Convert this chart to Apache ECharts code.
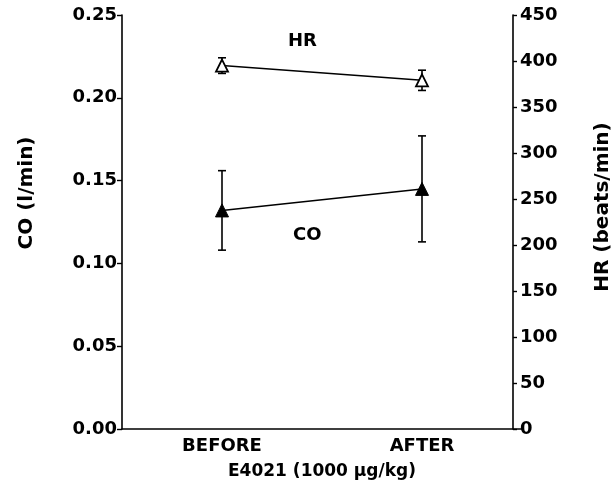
<!DOCTYPE html>
<html>
<head>
<meta charset="utf-8">
<script src="https://cdn.jsdelivr.net/npm/echarts@6/dist/echarts.min.js"></script>
<style>
  html, body { margin: 0; padding: 0; background: #fff; }
  #chart { width: 615px; height: 487px; }
</style>
</head>
<body>
<div id="chart"></div>
<script>
	// data
	var categories = ['BEFORE', 'AFTER'];
	var hrValues = [395, 379];
	var hrErr = [8.5, 11];
	var coValues = [0.132, 0.145];
	var coErr = [0.024, 0.032];

	var FONT = 'DejaVu Sans';

	function errData(vals, errs) {
		var out = [];
		for (var i = 0; i < vals.length; i++) {
			out.push([i, vals[i] - errs[i], vals[i] + errs[i]]);
		}
		return out;
	}

	// vertical error bar with small caps
	function renderErr(params, api) {
		var lo = api.coord([api.value(0), api.value(1)]);
		var hi = api.coord([api.value(0), api.value(2)]);
		var w = 4;
		var st = { stroke: '#000', lineWidth: 1.6 };
		return {
			type: 'group',
			children: [
				{ type: 'line', shape: { x1: lo[0], y1: lo[1], x2: hi[0], y2: hi[1] }, style: st },
				{ type: 'line', shape: { x1: lo[0] - w, y1: lo[1], x2: lo[0] + w, y2: lo[1] }, style: st },
				{ type: 'line', shape: { x1: hi[0] - w, y1: hi[1], x2: hi[0] + w, y2: hi[1] }, style: st }
			]
		};
	}

	var myChart = echarts.init(document.getElementById('chart'));
	var option = {
		animation: false,
		backgroundColor: '#fff',
		grid: {
			left: 122,
			right: 93,
			top: 15,
			bottom: 58,
			outerBoundsMode: 'none',
			containLabel: false
		},
		xAxis: {
			type: 'category',
			data: categories,
			boundaryGap: true,
			name: 'E4021 (1000 μg/kg)',
			nameLocation: 'middle',
			nameGap: 34,
			nameTextStyle: { fontFamily: FONT, fontWeight: 'bold', fontSize: 17, color: '#000' },
			axisLine: { lineStyle: { color: '#000', width: 1.6 } },
			axisTick: { alignWithLabel: true, length: 5, lineStyle: { color: '#000', width: 1.4 } },
			axisLabel: { margin: 8, fontFamily: FONT, fontWeight: 'bold', fontSize: 18, color: '#000' },
			splitLine: { show: false }
		},
		yAxis: [{
			type: 'value',
			min: 0,
			max: 0.25,
			interval: 0.05,
			name: 'CO (l/min)',
			nameLocation: 'middle',
			nameGap: 85,
			nameRotate: 90,
			nameTextStyle: { fontFamily: FONT, fontWeight: 'bold', fontSize: 20, color: '#000', padding: [0, 0, 0, 58] },
			axisLine: { show: true, lineStyle: { color: '#000', width: 1.6 } },
			axisTick: { show: true, length: 5, lineStyle: { color: '#000', width: 1.4 } },
			axisLabel: {
				margin: 5, fontFamily: FONT, fontWeight: 'bold', fontSize: 18, color: '#000',
				formatter: function (v) { return v.toFixed(2); }
			},
			splitLine: { show: false }
		}, {
			type: 'value',
			min: 0,
			max: 450,
			interval: 50,
			position: 'right',
			offset: -9,
			name: 'HR (beats/min)',
			nameLocation: 'middle',
			nameGap: 80,
			nameRotate: 90,
			nameTextStyle: { fontFamily: FONT, fontWeight: 'bold', fontSize: 20, color: '#000', padding: [0, 0, 0, 30] },
			axisLine: { show: true, lineStyle: { color: '#000', width: 1.6 } },
			axisTick: { show: true, length: 4, lineStyle: { color: '#000', width: 1.4 } },
			axisLabel: { margin: 7, fontFamily: FONT, fontWeight: 'bold', fontSize: 18, color: '#000' },
			splitLine: { show: false }
		}],
		graphic: [
			{ type: 'text', left: 288, top: 32, style: { text: 'HR', fontFamily: FONT, fontWeight: 'bold', fontSize: 18, fill: '#000' } },
			{ type: 'text', left: 293, top: 226, style: { text: 'CO', fontFamily: FONT, fontWeight: 'bold', fontSize: 18, fill: '#000' } }
		],
		series: [{
			name: 'HR err',
			type: 'custom',
			yAxisIndex: 1,
			renderItem: renderErr,
			encode: { x: 0, y: [1, 2] },
			data: errData(hrValues, hrErr),
			z: 1
		}, {
			name: 'CO err',
			type: 'custom',
			yAxisIndex: 0,
			renderItem: renderErr,
			encode: { x: 0, y: [1, 2] },
			data: errData(coValues, coErr),
			z: 1
		}, {
			name: 'HR',
			type: 'line',
			yAxisIndex: 1,
			data: hrValues,
			symbol: 'triangle',
			symbolSize: 12,
			lineStyle: { color: '#000', width: 1.5 },
			itemStyle: { color: '#fff', borderColor: '#000', borderWidth: 1.8 },
			z: 3
		}, {
			name: 'CO',
			type: 'line',
			yAxisIndex: 0,
			data: coValues,
			symbol: 'triangle',
			symbolSize: 13,
			lineStyle: { color: '#000', width: 1.5 },
			itemStyle: { color: '#000', borderColor: '#000', borderWidth: 1 },
			z: 3
		}]
	};
	myChart.setOption(option);
</script>
</body>
</html>
